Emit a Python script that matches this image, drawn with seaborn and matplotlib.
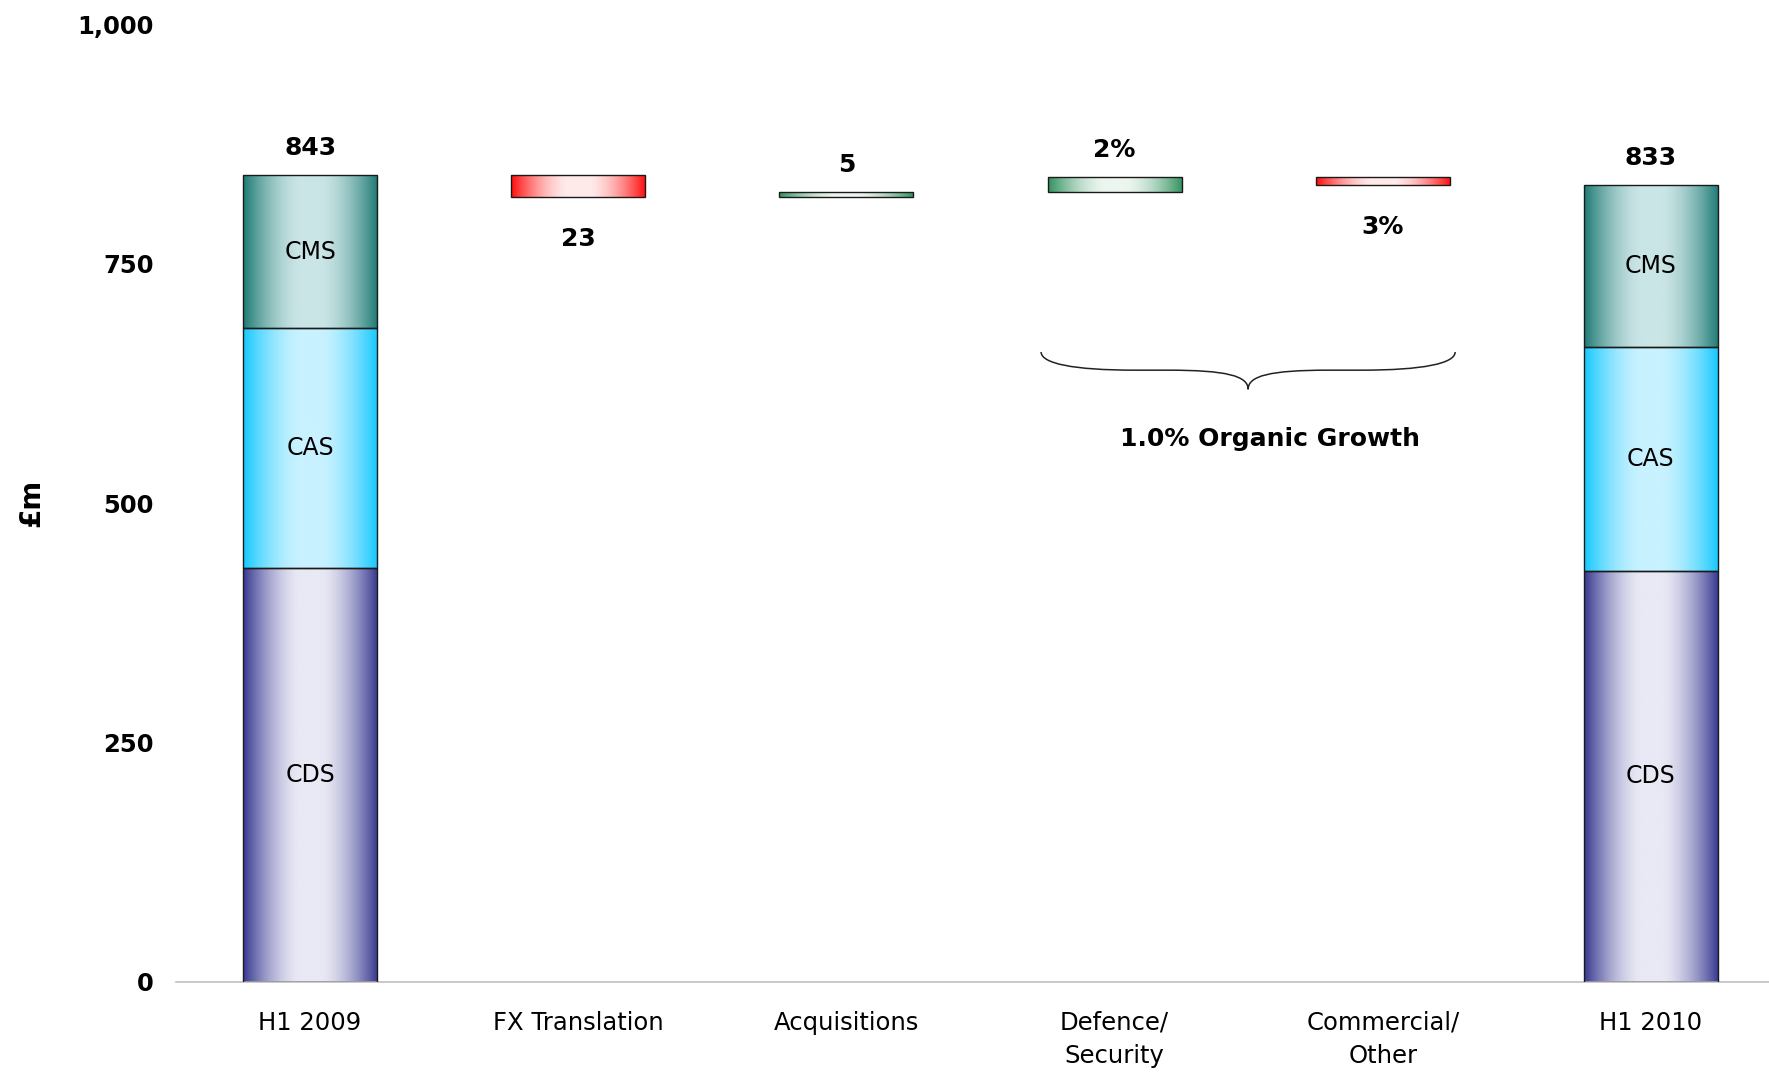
import numpy as np
import pandas as pd
import matplotlib
matplotlib.use("Agg")
import matplotlib.pyplot as plt
from matplotlib.path import Path
from matplotlib.patches import PathPatch
from matplotlib.ticker import StrMethodFormatter, FixedLocator
import seaborn as sns

# ---- data (GBP m) ----
categories = ["H1 2009", "FX Translation", "Acquisitions",
              "Defence/\nSecurity", "Commercial/\nOther", "H1 2010"]
end_bars = ["H1 2009", "H1 2010"]
cds = [432, 429]
cas = [251, 234]
cms = [160, 170]
segment_names = ["CDS", "CAS", "CMS"]
bridge_cats = ["FX Translation", "Acquisitions", "Defence/\nSecurity", "Commercial/\nOther"]
bridge_delta = [-23, 5, 16, -8]
bar_labels = ["843", "23", "5", "2%", "3%", "833"]
growth_note = "1.0% Organic Growth"

# gradient colours (edge, centre)
grad_cols = {
    "CDS": ((55, 55, 145), (233, 233, 245)),
    "CAS": ((20, 200, 255), (200, 242, 255)),
    "CMS": ((30, 122, 116), (202, 229, 229)),
    "up": ((50, 145, 95), (236, 246, 239)),
    "down": ((255, 12, 12), (255, 234, 234)),
}


def gradient(edge, centre, n=256):
    u = np.linspace(0, 1, n)
    t = np.abs(u - 0.5) / 0.5
    f = np.clip((t - 0.15) / 0.85, 0, 1) ** 1.6
    e = np.array(edge) / 255.0
    c = np.array(centre) / 255.0
    img = c[None, :] + (e - c)[None, :] * f[:, None]
    return img[None, :, :]


sns.set_style("white")
plt.rcParams["font.family"] = ["DejaVu Sans"]
plt.rcParams["text.color"] = "black"
plt.rcParams["xtick.color"] = "black"
plt.rcParams["ytick.color"] = "black"
plt.rcParams["axes.labelcolor"] = "black"

fig = plt.figure(figsize=(17.69, 10.72), dpi=100)
ax = fig.add_axes([176 / 1769, 1 - 981.5 / 1072, 1609 / 1769, 956.7 / 1072])

# stacked end bars
df_end = pd.DataFrame({"cat": end_bars, "CDS": cds, "CAS": cas, "CMS": cms})
bottoms = np.zeros(len(end_bars))
patch_kind = []
for seg in segment_names:
    n0 = len(ax.patches)
    sns.barplot(data=df_end, x="cat", y=seg, order=categories, bottom=bottoms,
                color="white", width=0.5, edgecolor="#1a1a1a", linewidth=1.0, ax=ax)
    patch_kind += [seg] * (len(ax.patches) - n0)
    bottoms = bottoms + df_end[seg].to_numpy()

# floating bridge bars
totals = df_end[segment_names].sum(axis=1).to_numpy()
running = totals[0]
bridge_bottom, bridge_height = [], []
for d in bridge_delta:
    if d >= 0:
        bridge_bottom.append(running)
    else:
        bridge_bottom.append(running + d)
    bridge_height.append(abs(d))
    running += d
df_bridge = pd.DataFrame({"cat": bridge_cats, "h": bridge_height})
n0 = len(ax.patches)
sns.barplot(data=df_bridge, x="cat", y="h", order=categories, bottom=np.array(bridge_bottom),
            color="white", width=0.5, edgecolor="#1a1a1a", linewidth=1.0, ax=ax)
patch_kind += ["up" if d >= 0 else "down" for d in bridge_delta]

# gradient fills clipped to each bar
for p, kind in zip(ax.patches, patch_kind):
    x0, y0 = p.get_x(), p.get_y()
    w, h = p.get_width(), p.get_height()
    im = ax.imshow(gradient(*grad_cols[kind]), extent=[x0, x0 + w, y0, y0 + h],
                   aspect="auto", interpolation="bilinear", zorder=2)
    im.set_clip_path(p)
    p.set_facecolor("none")
    p.set_zorder(3)

# segment labels
for i, cat in enumerate(end_bars):
    xpos = categories.index(cat)
    base = 0
    for seg in segment_names:
        v = df_end[seg].iloc[i]
        ax.text(xpos, base + v / 2, seg, ha="center", va="center", fontsize=17, zorder=4)
        base += v

# value labels
tops = [totals[0]] + [b + h for b, h in zip(bridge_bottom, bridge_height)] + [totals[1]]
lows = [0] + bridge_bottom + [0]
signs = [1] + bridge_delta + [1]
for i, lab in enumerate(bar_labels):
    if signs[i] >= 0:
        ax.text(i, tops[i] + 28, lab, ha="center", va="center", fontsize=18, fontweight="bold")
    else:
        ax.text(i, lows[i] - 44, lab, ha="center", va="center", fontsize=18, fontweight="bold")

# brace over the organic growth bars
xl, xr = 2.726, 4.27
xm = (xl + xr) / 2
ye, yf, yt = 658, 639, 619
verts = [(xl, ye), (xl, 646), (xl + 0.12, yf), (xl + 0.35, yf),
         (xm - 0.3, yf),
         (xm - 0.08, yf), (xm, 633), (xm, yt),
         (xm, 633), (xm + 0.08, yf), (xm + 0.3, yf),
         (xr - 0.35, yf),
         (xr - 0.12, yf), (xr, 646), (xr, ye)]
codes = [Path.MOVETO, Path.CURVE4, Path.CURVE4, Path.CURVE4,
         Path.LINETO,
         Path.CURVE4, Path.CURVE4, Path.CURVE4,
         Path.CURVE4, Path.CURVE4, Path.CURVE4,
         Path.LINETO,
         Path.CURVE4, Path.CURVE4, Path.CURVE4]
ax.add_patch(PathPatch(Path(verts, codes), facecolor="none", edgecolor="#222222", lw=1.1))
ax.text(3.58, 567, growth_note, ha="center", va="center", fontsize=18, fontweight="bold")

# axes styling
ax.set_xlim(-0.5, 5.5)
ax.set_ylim(0, 1000)
ax.set_yticks([0, 250, 500, 750, 1000])
ax.yaxis.set_major_formatter(StrMethodFormatter("{x:,.0f}"))
ax.tick_params(axis="y", length=0, pad=16, labelsize=17.5)
for t in ax.get_yticklabels():
    t.set_fontweight("bold")
ax.set_xticks(range(len(categories)))
ax.set_xticklabels(categories, fontsize=17.5, linespacing=1.5)
ax.xaxis.set_minor_locator(FixedLocator(np.arange(-0.5, 6.0, 1.0)))
ax.tick_params(axis="x", which="major", length=0, pad=21)
ax.tick_params(axis="x", which="minor", length=11, color="#c0c0c0", width=1)
ax.set_xlabel("")
ax.set_ylabel("£m", fontsize=20, fontweight="bold")
ax.yaxis.set_label_coords(-0.081, 0.5)
for s in ["top", "right", "left"]:
    ax.spines[s].set_visible(False)
ax.spines["bottom"].set_color("#c0c0c0")
ax.spines["bottom"].set_linewidth(1.2)

fig.savefig("out.png", dpi=100)
